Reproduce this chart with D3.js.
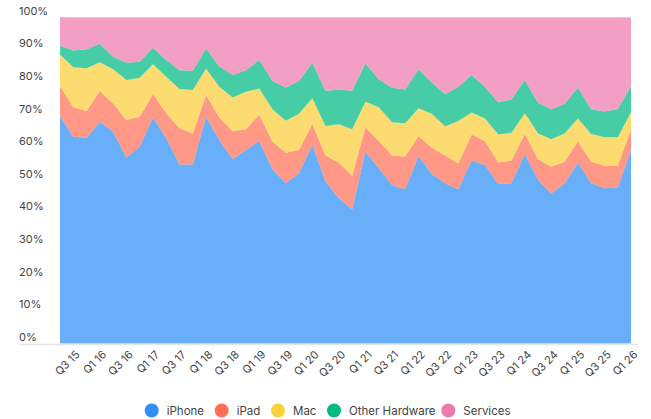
<!DOCTYPE html>
<html>
<head>
<meta charset="utf-8">
<script src="https://cdn.jsdelivr.net/npm/d3@7"></script>
<style>
  body { margin: 0; background: #fff; }
  svg { display: block; font-family: Inter, "Noto Sans", sans-serif; }
</style>
</head>
<body>
<div id="container"></div>
<script>
/* CONSTANTS AND GLOBALS */
const width = 651;
const height = 419;
const margin = { top: 17.3, right: 20, bottom: 75.5, left: 60 };

/* DATA (share of revenue, %) */
const quarters = [
  "Q2 15", "Q3 15", "Q4 15",
  "Q1 16", "Q2 16", "Q3 16", "Q4 16",
  "Q1 17", "Q2 17", "Q3 17", "Q4 17",
  "Q1 18", "Q2 18", "Q3 18", "Q4 18",
  "Q1 19", "Q2 19", "Q3 19", "Q4 19",
  "Q1 20", "Q2 20", "Q3 20", "Q4 20",
  "Q1 21", "Q2 21", "Q3 21", "Q4 21",
  "Q1 22", "Q2 22", "Q3 22", "Q4 22",
  "Q1 23", "Q2 23", "Q3 23", "Q4 23",
  "Q1 24", "Q2 24", "Q3 24", "Q4 24",
  "Q1 25", "Q2 25", "Q3 25", "Q4 25",
  "Q1 26"
];
const iPhone = [69.7, 63.4, 63.1, 68.0, 64.9, 57.0, 60.3, 69.3, 62.9, 54.9, 54.9,
  69.5, 62.4, 56.5, 59.3, 62.1, 53.4, 49.1, 52.2, 60.9, 49.6, 44.5, 41.1,
  58.8, 53.7, 48.6, 47.3, 57.5, 52.0, 49.1, 47.3, 56.1, 54.7, 48.9, 49.1,
  58.1, 50.1, 46.0, 49.1, 55.4, 49.1, 47.6, 47.8, 59.3];
const iPad = [9.2, 9.0, 8.2, 9.4, 8.7, 11.5, 9.2, 7.1, 7.7, 11.1, 9.5,
  6.7, 6.9, 8.6, 6.4, 8.0, 8.5, 9.4, 7.1, 6.4, 8.0, 10.9, 10.3,
  7.5, 8.4, 9.0, 10.0, 6.1, 8.0, 8.5, 7.9, 8.0, 7.4, 6.6, 7.0,
  6.1, 6.4, 8.2, 6.6, 6.5, 6.6, 6.9, 6.7, 6.2];
const mac = [9.7, 12.3, 13.1, 8.8, 10.5, 12.3, 12.0, 9.2, 11.2, 12.0, 13.3,
  8.0, 9.4, 10.3, 11.5, 8.1, 9.9, 9.8, 11.1, 7.9, 9.1, 11.8, 14.3,
  7.8, 10.3, 10.2, 10.2, 8.5, 10.4, 8.9, 13.0, 6.7, 6.9, 8.6, 8.5,
  6.4, 7.9, 8.4, 8.7, 7.1, 8.5, 8.7, 8.7, 5.4];
const otherHardware = [2.7, 5.1, 5.8, 5.7, 3.8, 5.3, 4.9, 5.1, 5.1, 5.8, 5.9,
  6.2, 6.2, 6.9, 6.6, 8.7, 8.7, 10.2, 10.1, 10.9, 10.7, 10.7, 11.8,
  11.8, 8.6, 10.6, 10.4, 12.0, 9.6, 9.9, 10.5, 11.5, 9.7, 9.8, 10.3,
  10.2, 9.4, 9.2, 9.0, 9.5, 7.6, 7.9, 8.7, 8.0];
const services = [8.7, 10.2, 9.8, 8.1, 12.1, 13.9, 13.6, 9.3, 13.1, 16.2, 16.4,
  9.6, 15.1, 17.7, 16.2, 13.1, 19.5, 21.5, 19.5, 13.9, 22.6, 22.1, 22.5,
  14.1, 19.0, 21.6, 22.1, 15.9, 20.0, 23.6, 21.3, 17.7, 21.3, 26.1, 25.1,
  19.2, 26.2, 28.2, 26.6, 21.5, 28.2, 28.9, 28.1, 21.1];

const seriesNames = ["iPhone", "iPad", "Mac", "Other Hardware", "Services"];
const seriesValues = [iPhone, iPad, mac, otherHardware, services];
const colors = ["#2f8ff7", "#ff7057", "#fbcf3a", "#00ba84", "#ee7aad"];
const yTicks = [0, 10, 20, 30, 40, 50, 60, 70, 80, 90, 100];

const table = quarters.map((q, i) => {
  const row = { quarter: q };
  seriesNames.forEach((name, k) => { row[name] = seriesValues[k][i]; });
  return row;
});

const svg = d3.select("#container").append("svg")
  .attr("width", width)
  .attr("height", height);

/* SCALES */
const xScale = d3.scalePoint()
  .domain(quarters)
  .range([margin.left, width - margin.right]);

const yScale = d3.scaleLinear()
  .domain([0, 100])
  .range([height - margin.bottom, margin.top]);

const colorScale = d3.scaleOrdinal().domain(seriesNames).range(colors);

const stacked = d3.stack()
  .keys(seriesNames)
  .offset(d3.stackOffsetExpand)(table);

const area = d3.area()
  .x(d => xScale(d.data.quarter))
  .y0(d => yScale(d[0] * 100))
  .y1(d => yScale(d[1] * 100));

/* AREAS */
svg.append("g")
  .selectAll("path")
  .data(stacked)
  .join("path")
  .attr("d", area)
  .attr("fill", d => colorScale(d.key))
  .attr("fill-opacity", 0.72);

/* Y AXIS labels */
svg.append("g")
  .selectAll("text")
  .data(yTicks)
  .join("text")
  .attr("x", 19)
  .attr("y", d => yScale(d) - 6.5)
  .attr("dy", "0.35em")
  .attr("font-size", 11)
  .attr("fill", "#444")
  .text(d => d + "%");

/* baseline */
svg.append("line")
  .attr("x1", 19)
  .attr("x2", 638)
  .attr("y1", yScale(0) + 1)
  .attr("y2", yScale(0) + 1)
  .attr("stroke", "#e6e6e6")
  .attr("stroke-width", 1.5);

/* X AXIS labels (every other quarter) */
const xAxis = d3.axisBottom(xScale)
  .tickValues(quarters.filter((q, i) => i % 2 === 1))
  .tickSize(0)
  .tickPadding(0);

const gx = svg.append("g")
  .attr("transform", `translate(0, ${yScale(0) + 9})`)
  .call(xAxis);
gx.select(".domain").remove();
gx.selectAll("text")
  .attr("font-family", "Inter, sans-serif")
  .attr("font-size", 11)
  .attr("fill", "#444")
  .attr("text-anchor", "end")
  .attr("dy", "0.35em")
  .attr("transform", "translate(4, 0) rotate(-45)");

/* LEGEND */
const legendX = [151.7, 221.7, 278, 334, 448.3];
const legend = svg.append("g")
  .selectAll("g")
  .data(seriesNames)
  .join("g")
  .attr("transform", (d, i) => `translate(${legendX[i]}, 410.5)`);

legend.append("circle")
  .attr("r", 7)
  .attr("fill", d => colorScale(d));

legend.append("text")
  .attr("x", 15)
  .attr("dy", "0.35em")
  .attr("font-size", 11.5)
  .attr("fill", "#444")
  .text(d => d);
</script>
</body>
</html>
